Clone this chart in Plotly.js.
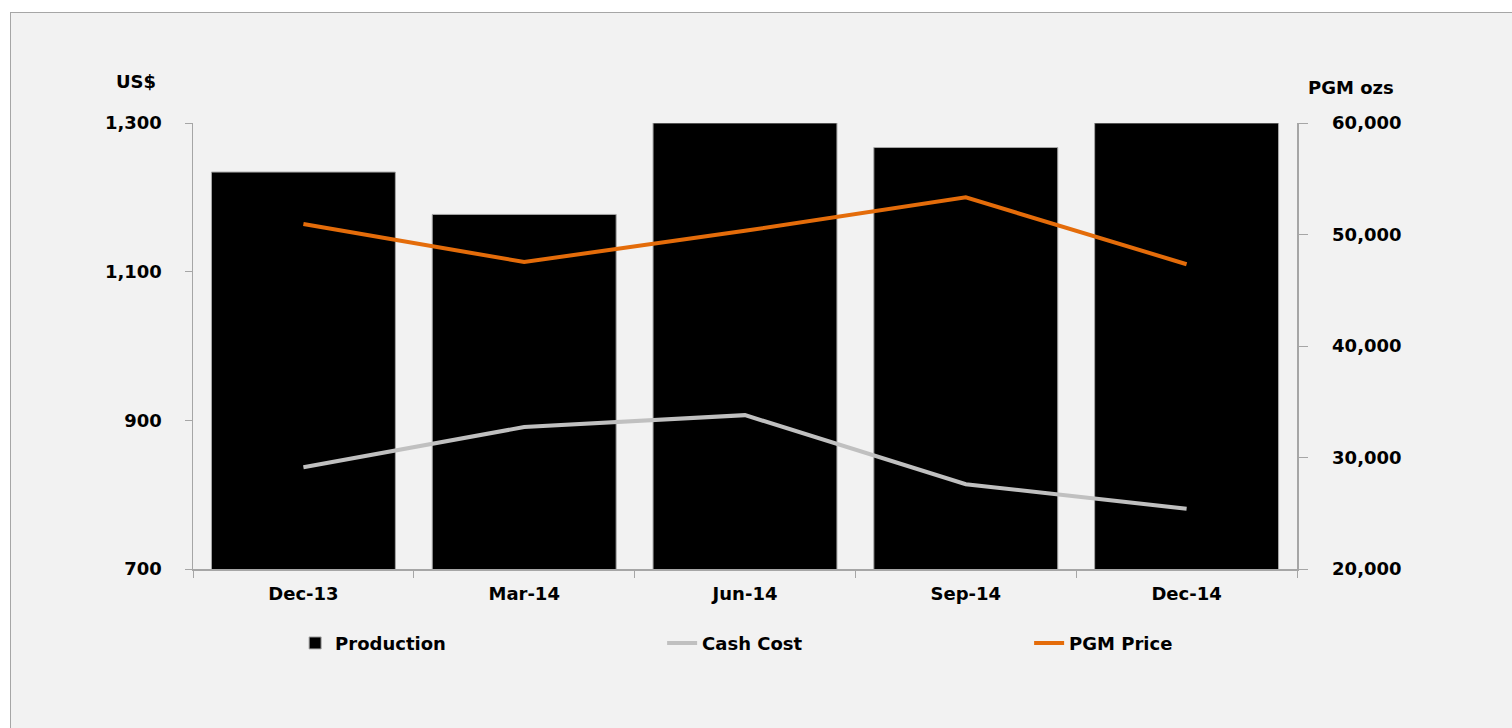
<!DOCTYPE html>
<html>
<head>
<meta charset="utf-8">
<script src="https://cdn.plot.ly/plotly-3.0.1.min.js"></script>
<style>
html,body{margin:0;padding:0;background:#ffffff;overflow:hidden;width:1512px;height:728px;}
#chart{position:absolute;left:10px;top:12px;width:1502px;height:716px;border:1px solid #a6a6a6;box-sizing:content-box;}
</style>
</head>
<body>
<div id="chart"></div>
<script>
const quarters = ["Dec-13", "Mar-14", "Jun-14", "Sep-14", "Dec-14"];
const production = [55600, 51800, 60000, 57800, 60000];
const cashCost = [837, 891, 907, 814, 781];
const pgmPrice = [1164, 1113, 1155, 1200, 1110];

const FONT = "'DejaVu Sans', 'Noto Sans', sans-serif";

const traces = [
  {
    type: "bar", name: "Production", x: quarters, y: production, yaxis: "y",
    marker: {color: "#000000", line: {color: "#a6a6a6", width: 1}}
  },
  {
    type: "scatter", mode: "lines", name: "Cash Cost", x: quarters, y: cashCost, yaxis: "y2",
    line: {color: "#c0c0c0", width: 4}
  },
  {
    type: "scatter", mode: "lines", name: "PGM Price", x: quarters, y: pgmPrice, yaxis: "y2",
    line: {color: "#e46c0a", width: 4}
  }
];

const layout = {
  width: 1502, height: 716,
  margin: {l: 182, r: 216, t: 110, b: 160, pad: 0},
  paper_bgcolor: "#f2f2f2",
  plot_bgcolor: "rgba(0,0,0,0)",
  font: {family: FONT, size: 18, color: "#000000", weight: "bold"},
  bargap: 0.167,
  showlegend: true,
  legend: {
    orientation: "h", x: 0.0925, xanchor: "left", y: -0.125, yanchor: "top",
    entrywidth: 322, entrywidthmode: "pixels", traceorder: "normal",
    font: {family: FONT, size: 18, color: "#000", weight: "bold"},
    bgcolor: "rgba(0,0,0,0)"
  },
  xaxis: {
    type: "category", showline: true, linecolor: "#a6a6a6", linewidth: 1.5,
    ticks: "outside", tickson: "boundaries", ticklen: 7, tickcolor: "#a6a6a6",
    showgrid: false, zeroline: false, ticklabelstandoff: 8,
    tickfont: {family: FONT, size: 18, weight: "bold"}
  },
  yaxis: {
    side: "right",
    range: [20000, 60000], tickvals: [20000, 30000, 40000, 50000, 60000], tickformat: ",",
    showline: true, linecolor: "#a6a6a6", linewidth: 1.5,
    ticks: "outside", ticklen: 9, tickcolor: "#a6a6a6",
    showgrid: false, zeroline: false, ticklabelstandoff: 21,
    tickfont: {family: FONT, size: 18, weight: "bold"}
  },
  yaxis2: {
    overlaying: "y", side: "left",
    range: [700, 1300], tickvals: [700, 900, 1100, 1300], tickformat: ",",
    showline: true, linecolor: "#a6a6a6", linewidth: 1.5,
    ticks: "outside", ticklen: 7, tickcolor: "#a6a6a6",
    showgrid: false, zeroline: false, ticklabelstandoff: 19,
    tickfont: {family: FONT, size: 18, weight: "bold"}
  },
  annotations: [
    {text: "US$", xref: "paper", yref: "paper", x: -0.052, y: 1.0, xanchor: "center", yanchor: "bottom",
     yshift: 29, showarrow: false, font: {family: FONT, size: 18, weight: "bold"}},
    {text: "PGM ozs", xref: "paper", yref: "paper", x: 1.0, y: 1.0, xanchor: "left", yanchor: "bottom",
     xshift: 9, yshift: 23, showarrow: false, font: {family: FONT, size: 18, weight: "bold"}}
  ]
};

Plotly.newPlot("chart", traces, layout, {displayModeBar: false, staticPlot: true});
</script>
</body>
</html>
